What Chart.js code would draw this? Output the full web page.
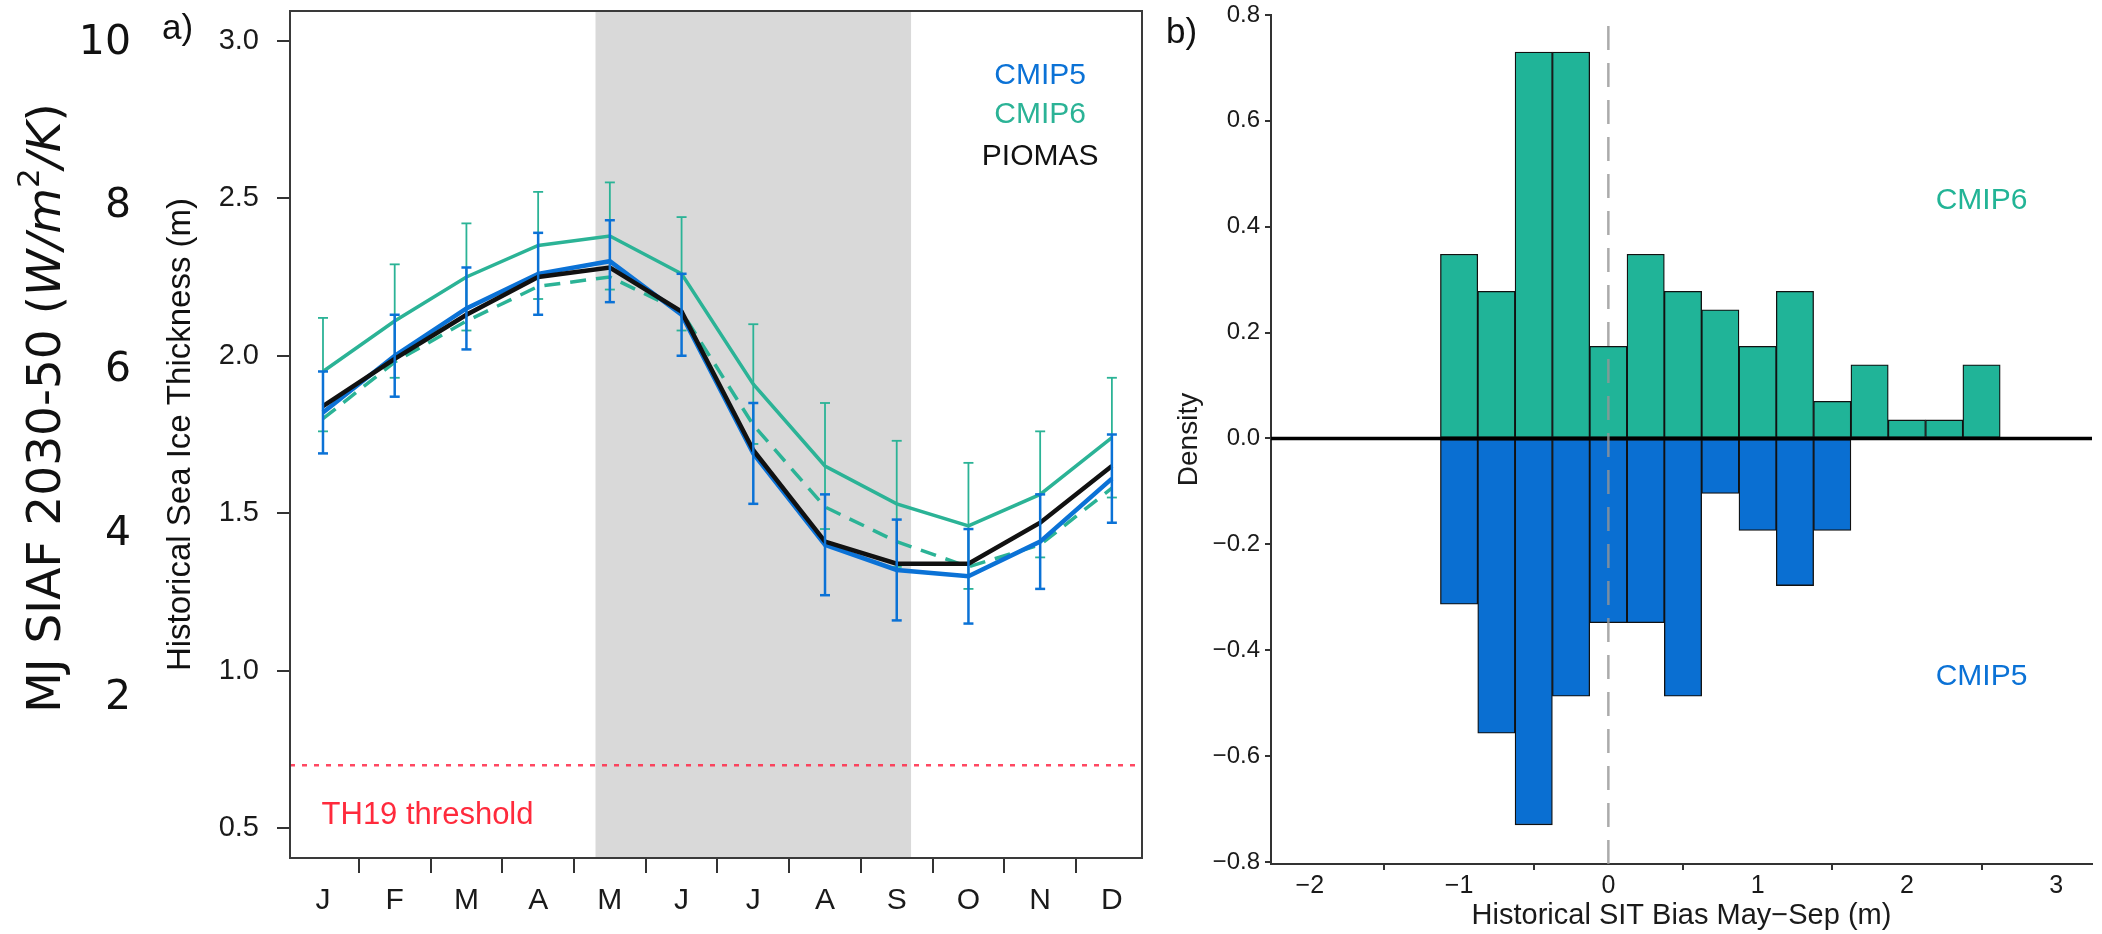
<!DOCTYPE html>
<html>
<head>
<meta charset="utf-8">
<script src="https://cdn.jsdelivr.net/npm/chart.js@4.4.1/dist/chart.umd.min.js"></script>
<style>
  body { margin: 0; background: #fff; }
  #wrap { position: relative; width: 2102px; height: 934px; }
  canvas { position: absolute; top: 0; }
  #thick { left: 0; }
  #bias { left: 1160px; }
</style>
</head>
<body>
<div id="wrap">
  <canvas id="thick" width="1160" height="934"></canvas>
  <canvas id="bias" width="942" height="934"></canvas>
</div>
<script>
// panel a: monthly sea ice thickness (m)
var months = ['J', 'F', 'M', 'A', 'M', 'J', 'J', 'A', 'S', 'O', 'N', 'D'];
var cmip6 = [1.95, 2.11, 2.25, 2.35, 2.38, 2.26, 1.91, 1.65, 1.53, 1.46, 1.56, 1.74];
var cmip6Lo = [1.76, 1.93, 2.08, 2.18, 2.21, 2.08, 1.72, 1.45, 1.33, 1.26, 1.36, 1.55];
var cmip6Hi = [2.12, 2.29, 2.42, 2.52, 2.55, 2.44, 2.10, 1.85, 1.73, 1.66, 1.76, 1.93];
var cmip6Sub = [1.80, 1.98, 2.11, 2.22, 2.25, 2.14, 1.78, 1.52, 1.41, 1.33, 1.40, 1.58];
var cmip5 = [1.82, 2.00, 2.15, 2.26, 2.30, 2.13, 1.69, 1.40, 1.32, 1.30, 1.41, 1.61];
var cmip5Lo = [1.69, 1.87, 2.02, 2.13, 2.17, 2.00, 1.53, 1.24, 1.16, 1.15, 1.26, 1.47];
var cmip5Hi = [1.95, 2.13, 2.28, 2.39, 2.43, 2.26, 1.85, 1.56, 1.48, 1.45, 1.56, 1.75];
var piomas = [1.84, 1.99, 2.13, 2.25, 2.28, 2.14, 1.70, 1.41, 1.34, 1.34, 1.47, 1.65];
var th19 = 0.7;
var thickTicks = [0.5, 1.0, 1.5, 2.0, 2.5, 3.0];
var siafTicks = [2, 4, 6, 8, 10];

// panel b: histogram of May-Sep bias (density)
var cmip6Bins = [-1.0, -0.75, -0.5, -0.25, 0, 0.25, 0.5, 0.75, 1.0, 1.25, 1.5, 1.75, 2.0, 2.25, 2.5];
var cmip6Density = [0.348, 0.278, 0.730, 0.730, 0.174, 0.348, 0.278, 0.243, 0.174, 0.278, 0.070, 0.139, 0.035, 0.035, 0.139];
var cmip5Bins = [-1.0, -0.75, -0.5, -0.25, 0, 0.25, 0.5, 0.75, 1.0, 1.25, 1.5];
var cmip5Density = [-0.313, -0.557, -0.730, -0.487, -0.348, -0.348, -0.487, -0.104, -0.174, -0.278, -0.174];
var densityTicks = [-0.8, -0.6, -0.4, -0.2, 0.0, 0.2, 0.4, 0.6, 0.8];
var biasTicks = [-2, -1, 0, 1, 2, 3];

var blue = '#0b72d6';
var teal = '#2bb396';
var sans = "'Liberation Sans', Arial, sans-serif";
var dejavu = "'DejaVu Sans', sans-serif";

// axis bounds
var xMinA = -0.46, xMaxA = 11.42;
var xMinB = -2.26, xMaxB = 3.24;
var shadeFrom = 3.8, shadeTo = 8.2;   // May-Sep window

function pts(ys) {
  return ys.map(function(y, i) { return {x: i, y: y}; });
}
function bars(lo, hi) {
  return lo.map(function(l, i) { return {x: i, y: [l, hi[i]]}; });
}
function caps(lo, hi) {
  var out = [];
  lo.forEach(function(l, i) { out.push({x: i, y: l}); out.push({x: i, y: hi[i]}); });
  return out;
}
function minus(v, digits) {
  var s = digits ? Math.abs(v).toFixed(digits) : String(Math.abs(v));
  return (v < 0 ? '\u2212' : '') + s;
}
function fixAxis(size, horizontal) {
  return function(s) {
    if (horizontal) s.height = size; else s.width = size;
    s.paddingTop = 0; s.paddingBottom = 0; s.paddingLeft = 0; s.paddingRight = 0;
  };
}

var panelA = {
  id: 'panelA',
  beforeDatasetsDraw: function(chart) {
    var ctx = chart.ctx, a = chart.chartArea, x = chart.scales.x;
    var x0 = x.getPixelForValue(shadeFrom), x1 = x.getPixelForValue(shadeTo);
    ctx.save();
    ctx.fillStyle = '#d9d9d9';
    ctx.fillRect(x0, a.top, x1 - x0, a.bottom - a.top);
    ctx.restore();
  },
  afterDraw: function(chart) {
    var ctx = chart.ctx, a = chart.chartArea, x = chart.scales.x, y = chart.scales.y;
    ctx.save();
    ctx.strokeStyle = '#3a3a3a';
    ctx.lineWidth = 2;
    ctx.strokeRect(a.left, a.top, a.right - a.left, a.bottom - a.top);

    ctx.textBaseline = 'middle';
    ctx.textAlign = 'center';
    ctx.font = '30px ' + sans;
    [['CMIP5', blue, 2.89], ['CMIP6', teal, 2.765], ['PIOMAS', '#111', 2.63]].forEach(function(l) {
      ctx.fillStyle = l[1];
      ctx.fillText(l[0], x.getPixelForValue(10), y.getPixelForValue(l[2]));
    });

    ctx.textAlign = 'left';
    ctx.fillStyle = '#ff2a3c';
    ctx.font = '31px ' + sans;
    ctx.fillText('TH19 threshold', x.getPixelForValue(-0.02), y.getPixelForValue(0.54));

    ctx.fillStyle = '#111';
    ctx.font = '35px ' + sans;
    ctx.fillText('a)', 162, 29);

    // outer axis title (cropped neighbour figure)
    var parts = [
      ['MJ SIAF 2030-50 (', '47px ' + dejavu, 0],
      ['W/m', 'italic 47px ' + dejavu, 0],
      ['2', '31px ' + dejavu, -21],
      ['/K', 'italic 47px ' + dejavu, 0],
      [')', '47px ' + dejavu, 0]
    ];
    var total = 0;
    parts.forEach(function(p) { ctx.font = p[1]; total += ctx.measureText(p[0]).width; });
    ctx.translate(60, 408);
    ctx.rotate(-Math.PI / 2);
    ctx.textBaseline = 'alphabetic';
    var cx = -total / 2;
    parts.forEach(function(p) {
      ctx.font = p[1];
      ctx.fillText(p[0], cx, p[2]);
      cx += ctx.measureText(p[0]).width;
    });
    ctx.restore();
  }
};

new Chart(document.getElementById('thick'), {
  type: 'line',
  data: {
    datasets: [
      {type: 'bar', data: bars(cmip5Lo, cmip5Hi), backgroundColor: blue, grouped: false, maxBarThickness: 2.5, order: 0},
      {data: caps(cmip5Lo, cmip5Hi), showLine: false, pointStyle: 'line', pointRadius: 5, pointBorderWidth: 2.5, pointBorderColor: blue, order: 0},
      {data: pts(piomas), borderColor: '#111', borderWidth: 4.5, pointRadius: 0, order: 1},
      {data: pts(cmip5), borderColor: blue, borderWidth: 4.5, pointRadius: 0, order: 2},
      {data: pts(cmip6Sub), borderColor: teal, borderWidth: 3.5, borderDash: [16, 10], pointRadius: 0, order: 3},
      {data: pts(cmip6), borderColor: teal, borderWidth: 3.5, pointRadius: 0, order: 4},
      {type: 'bar', data: bars(cmip6Lo, cmip6Hi), backgroundColor: teal, grouped: false, maxBarThickness: 1.8, order: 5},
      {data: caps(cmip6Lo, cmip6Hi), showLine: false, pointStyle: 'line', pointRadius: 5, pointBorderWidth: 1.8, pointBorderColor: teal, order: 5},
      {data: [{x: xMinA, y: th19}, {x: xMaxA, y: th19}], borderColor: 'rgba(255,40,70,0.85)', borderWidth: 2.5, borderDash: [5, 7], pointRadius: 0, order: 6}
    ]
  },
  options: {
    responsive: false,
    animation: false,
    devicePixelRatio: 1,
    events: [],
    layout: {padding: {left: 0, right: 18, top: 11, bottom: 0}},
    plugins: {legend: {display: false}, tooltip: {enabled: false}},
    scales: {
      x: {
        type: 'linear', min: xMinA, max: xMaxA, offset: false,
        afterBuildTicks: function(s) { s.ticks = months.map(function(m, i) { return {value: i}; }); },
        afterFit: fixAxis(76, true),
        grid: {display: true, drawOnChartArea: false, drawTicks: true, tickLength: 15, color: '#333', lineWidth: 2},
        border: {display: false},
        ticks: {autoSkip: false, maxRotation: 0, minRotation: 0, padding: 10, color: '#1a1a1a',
          font: {family: sans, size: 30}, callback: function(v) { return months[v]; }}
      },
      y: {
        type: 'linear', position: 'left', weight: 0, min: 0.406, max: 3.094,
        afterBuildTicks: function(s) { s.ticks = thickTicks.map(function(v) { return {value: v}; }); },
        afterFit: fixAxis(140, false),
        grid: {display: true, drawOnChartArea: false, drawTicks: true, tickLength: 13, color: '#333', lineWidth: 2},
        border: {display: false},
        ticks: {padding: 18, color: '#1a1a1a', font: {family: sans, size: 29},
          callback: function(v) { return v.toFixed(1); }},
        title: {display: true, text: 'Historical Sea Ice Thickness (m)', color: '#111',
          font: {family: sans, size: 33}, padding: {top: 11, bottom: 0}}
      },
      ySiaf: {
        type: 'linear', position: 'left', weight: 1, min: 0.05, max: 10.39,
        afterBuildTicks: function(s) { s.ticks = siafTicks.map(function(v) { return {value: v}; }); },
        afterFit: fixAxis(150, false),
        grid: {display: false, drawTicks: false},
        border: {display: false},
        ticks: {padding: 19, color: '#111', font: {family: dejavu, size: 41},
          callback: function(v) { return String(v); }}
      }
    }
  },
  plugins: [panelA]
});

var panelB = {
  id: 'panelB',
  afterDraw: function(chart) {
    var ctx = chart.ctx, x = chart.scales.x, y = chart.scales.y;
    ctx.save();
    ctx.textAlign = 'center';
    ctx.textBaseline = 'middle';
    ctx.font = '30px ' + sans;
    ctx.fillStyle = '#22b496';
    ctx.fillText('CMIP6', x.getPixelForValue(2.5), y.getPixelForValue(0.45));
    ctx.fillStyle = blue;
    ctx.fillText('CMIP5', x.getPixelForValue(2.5), y.getPixelForValue(-0.45));
    ctx.textAlign = 'left';
    ctx.fillStyle = '#111';
    ctx.font = '35px ' + sans;
    ctx.fillText('b)', 6, 33);
    ctx.restore();
  }
};

new Chart(document.getElementById('bias'), {
  type: 'line',
  data: {
    datasets: [
      {data: [{x: 0, y: -0.804}, {x: 0, y: 0.785}], borderColor: 'rgba(150,150,150,0.8)', borderWidth: 2.5,
        borderDash: [24, 13], pointRadius: 0, order: 0},
      {data: [{x: xMinB, y: 0}, {x: xMaxB, y: 0}], borderColor: '#000', borderWidth: 3.5, pointRadius: 0, order: 1},
      {type: 'bar', data: cmip6Bins.map(function(b, i) { return {x: b, y: cmip6Density[i]}; }),
        backgroundColor: '#20b498', borderColor: '#111', borderWidth: 1.3, borderSkipped: false,
        grouped: false, barPercentage: 1, categoryPercentage: 1, order: 2},
      {type: 'bar', data: cmip5Bins.map(function(b, i) { return {x: b, y: cmip5Density[i]}; }),
        backgroundColor: '#0a6fd2', borderColor: '#111', borderWidth: 1.3, borderSkipped: false,
        grouped: false, barPercentage: 1, categoryPercentage: 1, order: 2}
    ]
  },
  options: {
    responsive: false,
    animation: false,
    devicePixelRatio: 1,
    events: [],
    layout: {padding: {left: 0, right: 10, top: 15, bottom: 0}},
    plugins: {legend: {display: false}, tooltip: {enabled: false}},
    scales: {
      x: {
        type: 'linear', min: xMinB, max: xMaxB, offset: false,
        afterBuildTicks: function(s) { s.ticks = biasTicks.map(function(v) { return {value: v}; }); },
        afterFit: fixAxis(70, true),
        grid: {display: true, drawOnChartArea: false, drawTicks: true, tickLength: 6, color: '#333', lineWidth: 2},
        border: {display: true, color: '#333', width: 2},
        ticks: {autoSkip: false, maxRotation: 0, minRotation: 0, padding: 1, color: '#1a1a1a',
          font: {family: sans, size: 25}, callback: function(v) { return minus(v, 0); }},
        title: {display: true, text: 'Historical SIT Bias May\u2212Sep (m)', color: '#1a1a1a',
          font: {family: sans, size: 29}, padding: {top: 0, bottom: 1}}
      },
      y: {
        type: 'linear', min: -0.804, max: 0.8,
        afterBuildTicks: function(s) { s.ticks = densityTicks.map(function(v) { return {value: v}; }); },
        afterFit: fixAxis(111, false),
        grid: {display: true, drawOnChartArea: false, drawTicks: true, tickLength: 6, color: '#333', lineWidth: 2},
        border: {display: true, color: '#333', width: 2},
        ticks: {padding: 5, color: '#1a1a1a', font: {family: sans, size: 24},
          callback: function(v) { return minus(v, 1); }},
        title: {display: true, text: 'Density', color: '#1a1a1a',
          font: {family: sans, size: 28}, padding: {top: 12, bottom: 0}}
      }
    }
  },
  plugins: [panelB]
});
</script>
</body>
</html>
